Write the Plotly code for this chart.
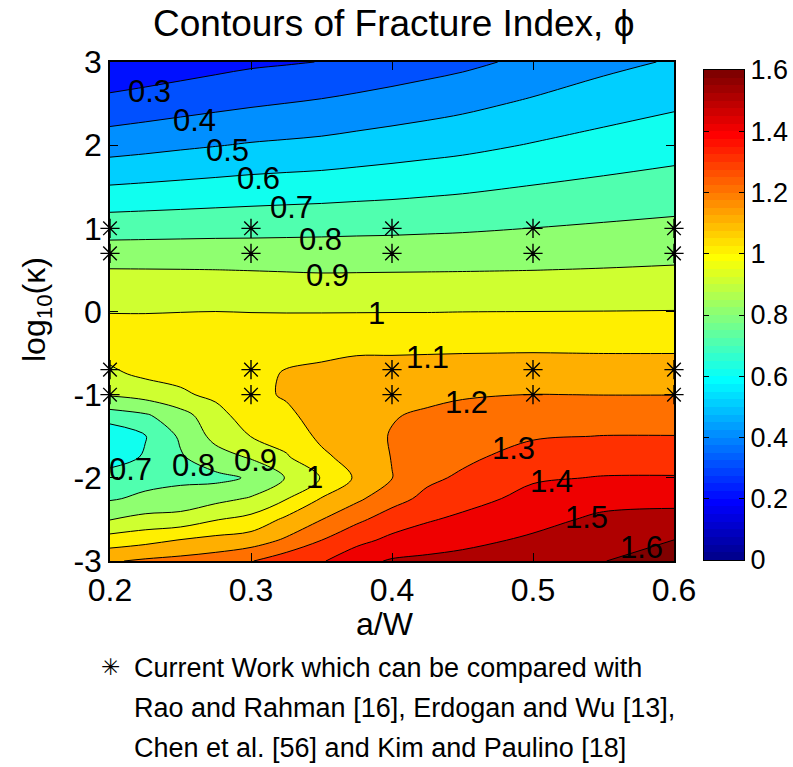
import plotly.graph_objects as go

# ---------------- data ----------------
aw = [0.2, 0.225, 0.25, 0.275, 0.3, 0.325, 0.35, 0.375, 0.4, 0.425, 0.45, 0.5, 0.55, 0.6]
logk = [3, 2.5, 2, 1.5, 1, 0.5, 0.25, -0.25, -0.5, -0.75, -1, -1.25, -1.5, -1.75,
        -2, -2.25, -2.5, -2.75, -3]

# fracture index phi: one row per logk value, one column per a/W value
phi_r3 = [0.215, 0.232, 0.25, 0.267, 0.283, 0.292, 0.302, 0.319, 0.34, 0.358, 0.376, 0.424, 0.473, 0.509]
phi_r2p5 = [0.33, 0.345, 0.36, 0.375, 0.389, 0.401, 0.413, 0.428, 0.442, 0.458, 0.475, 0.515, 0.553, 0.585]
phi_r2 = [0.457, 0.47, 0.484, 0.496, 0.508, 0.516, 0.524, 0.537, 0.55, 0.562, 0.574, 0.606, 0.636, 0.661]
phi_r1p5 = [0.606, 0.614, 0.622, 0.63, 0.638, 0.644, 0.649, 0.657, 0.664, 0.673, 0.682, 0.704, 0.723, 0.74]
phi_r1 = [0.759, 0.762, 0.765, 0.768, 0.770, 0.773, 0.776, 0.779, 0.781, 0.785, 0.789, 0.801, 0.813, 0.824]
phi_r0p5 = [0.904, 0.903, 0.902, 0.9005, 0.898, 0.895, 0.892, 0.893, 0.894, 0.895, 0.896, 0.899, 0.904, 0.91]
phi_r0p25 = [0.952, 0.951, 0.951, 0.95, 0.95, 0.948, 0.946, 0.946, 0.947, 0.947, 0.948, 0.95, 0.952, 0.955]
phi_rm0p25 = [1.04, 1.04, 1.045, 1.05, 1.045, 1.045, 1.047, 1.048, 1.048, 1.048, 1.05, 1.05, 1.05, 1.05]
phi_rm0p5 = [1.025, 1.035, 1.04, 1.05, 1.07, 1.085, 1.085, 1.095, 1.095, 1.097, 1.099, 1.101, 1.099, 1.099]
phi_rm0p75 = [0.981, 1.02, 1.025, 1.04, 1.08, 1.105, 1.12, 1.135, 1.14, 1.143, 1.145, 1.149, 1.15, 1.15]
phi_rm1 = [0.91, 0.937, 0.986, 1.02, 1.075, 1.11, 1.14, 1.16, 1.17, 1.18, 1.193, 1.201, 1.199, 1.199]
phi_rm1p25 = [0.755, 0.787, 0.86, 0.965, 1.05, 1.08, 1.14, 1.17, 1.195, 1.212, 1.223, 1.246, 1.249, 1.251]
phi_rm1p5 = [0.62, 0.695, 0.815, 0.93, 1.002, 1.04, 1.12, 1.165, 1.205, 1.235, 1.25, 1.291, 1.302, 1.302]
phi_rm1p75 = [0.65, 0.71, 0.79, 0.86, 0.91, 0.99, 1.08, 1.14, 1.203, 1.258, 1.28, 1.339, 1.353, 1.354]
phi_rm2 = [0.745, 0.765, 0.78, 0.775, 0.81, 0.905, 1.005, 1.115, 1.198, 1.28, 1.315, 1.388, 1.405, 1.406]
phi_rm2p25 = [0.79, 0.82, 0.835, 0.87, 0.91, 0.995, 1.105, 1.18, 1.265, 1.325, 1.362, 1.431, 1.468, 1.47]
phi_rm2p5 = [0.896, 0.93, 0.94, 0.995, 1.03, 1.12, 1.198, 1.28, 1.345, 1.39, 1.421, 1.471, 1.519, 1.534]
phi_rm2p75 = [1.045, 1.07, 1.105, 1.13, 1.15, 1.215, 1.30, 1.37, 1.425, 1.455, 1.475, 1.515, 1.56, 1.601]
phi_rm3 = [1.19, 1.215, 1.23, 1.25, 1.295, 1.36, 1.39, 1.47, 1.51, 1.52, 1.53, 1.55, 1.597, 1.665]

phi = [phi_r3, phi_r2p5, phi_r2, phi_r1p5, phi_r1, phi_r0p5, phi_r0p25, phi_rm0p25,
       phi_rm0p5, phi_rm0p75, phi_rm1, phi_rm1p25, phi_rm1p5, phi_rm1p75, phi_rm2,
       phi_rm2p25, phi_rm2p5, phi_rm2p75, phi_rm3]

# points of the current work
star_aw = [0.2, 0.3, 0.4, 0.5, 0.6]
star_logk = [1.0, 0.699, -0.699, -1.0]

# contour level labels
level_labels = ["0.3", "0.4", "0.5", "0.6", "0.7", "0.8", "0.9", "1", "1.1", "1.2",
                "1.3", "1.4", "1.5", "1.6", "0.7", "0.8", "0.9", "1"]

x_ticks = [0.2, 0.3, 0.4, 0.5, 0.6]
x_ticktext = ["0.2", "0.3", "0.4", "0.5", "0.6"]
y_ticks = [-3, -2, -1, 0, 1, 2, 3]
y_ticktext = ["-3", "-2", "-1", "0", "1", "2", "3"]
cbar_min, cbar_max = 0.0, 1.6
cbar_ticks = [0, 0.2, 0.4, 0.6, 0.8, 1.0, 1.2, 1.4, 1.6]
cbar_ticktext = ["0", "0.2", "0.4", "0.6", "0.8", "1", "1.2", "1.4", "1.6"]

title_text = "Contours of Fracture Index, \u03d5"
xlabel_text = "a/W"
ylabel_text = "log<sub>10</sub>(\u03ba)"
note_lines = ["Current Work which can be compared with",
              "Rao and Rahman [16], Erdogan and Wu [13],",
              "Chen et al. [56] and Kim and Paulino [18]"]

# ---------------- styling helpers ----------------
FONT = "Liberation Sans, Arial, Helvetica, sans-serif"
W, H = 793, 767
PL, PR, PT, PB = 110, 674, 62, 561   # main plot area in pixels
CB_L, CB_R, CB_T, CB_B = 704, 744, 70, 560   # colour bar box in pixels
ML, MR = PL, CB_R                     # paper area (inside margins)


def jet(m=64):
    n = m // 4
    u = [i / n for i in range(1, n + 1)] + [1.0] * (n - 1) + [i / n for i in range(n, 0, -1)]
    J = [[0.0, 0.0, 0.0] for _ in range(m)]
    for k in range(1, m + 1):
        if k >= 25:
            J[k - 1][0] = u[k - 25]
        if 9 <= k <= 55:
            J[k - 1][1] = u[k - 9]
        if k <= 39:
            J[k - 1][2] = u[k + 7]
    return J


def rgb(c):
    return "rgb(%d,%d,%d)" % (round(c[0] * 255), round(c[1] * 255), round(c[2] * 255))


J = jet(64)

# filled bands: band [L, L+0.1] takes the jet colour of L (MATLAB contourf style)
band_scale = []
for k in range(16):
    c = rgb(J[4 * k])
    band_scale.append([k / 16, c])
    band_scale.append([min((k + 1) / 16, 0.9999), c])
band_scale.append([1.0, rgb(J[63])])

# colour bar: 64-step jet
bar_scale = []
for i in range(64):
    c = rgb(J[i])
    bar_scale.append([i / 64, c])
    bar_scale.append([(i + 1) / 64, c])
step = (cbar_max - cbar_min) / 64
bar_centres = [cbar_min + (i + 0.5) * step for i in range(64)]


def px2paper_x(px):
    return (px - ML) / (MR - ML)


def px2paper_y(py):
    return (PB - py) / (PB - PT)


fig = go.Figure()

fig.add_trace(go.Contour(
    x=aw, y=logk, z=phi,
    autocontour=False,
    contours=dict(start=0, end=1.6, size=0.1, coloring="fill", showlines=True),
    line=dict(color="black", width=1),
    colorscale=band_scale, zmin=0, zmax=1.6,
    showscale=False, hoverinfo="skip",
))

sx, sy = [], []
for yy in star_logk:
    for xx in star_aw:
        sx.append(xx)
        sy.append(yy)
fig.add_trace(go.Scatter(
    x=sx, y=sy, mode="markers", cliponaxis=False, hoverinfo="skip",
    marker=dict(symbol="asterisk-open", size=16, color="black",
                line=dict(color="black", width=1.4)),
))

# colour bar drawn as a one-column heatmap on its own axes
fig.add_trace(go.Heatmap(
    x=[0], y=bar_centres, z=[[v] for v in bar_centres],
    colorscale=bar_scale, zmin=cbar_min, zmax=cbar_max, showscale=False,
    xaxis="x2", yaxis="y2", hoverinfo="skip",
))

axis_common = dict(ticks="inside", ticklen=8, tickwidth=1, tickcolor="black",
                   showline=True, linecolor="black", linewidth=1.5, mirror="ticks",
                   showgrid=False, zeroline=False, automargin=False,
                   tickfont=dict(size=32, family=FONT, color="black"))

fig.update_layout(
    template="none",
    width=W, height=H,
    margin=dict(l=ML, r=W - MR, t=PT, b=H - PB, pad=0, autoexpand=False),
    paper_bgcolor="white", plot_bgcolor="white",
    showlegend=False,
    font=dict(family=FONT, color="black"),
    xaxis=dict(domain=[0, px2paper_x(PR)], range=[0.2, 0.6], tickvals=x_ticks,
               ticktext=x_ticktext, **axis_common),
    yaxis=dict(range=[-3, 3], tickvals=y_ticks, ticktext=y_ticktext, **axis_common),
    xaxis2=dict(domain=[px2paper_x(CB_L), 1], anchor="y2", range=[-0.5, 0.5],
                showticklabels=False, ticks="", showline=True, mirror=True,
                linecolor="black", linewidth=1, showgrid=False, zeroline=False,
                automargin=False),
    yaxis2=dict(domain=[px2paper_y(CB_B), px2paper_y(CB_T)], anchor="x2", side="right",
                range=[cbar_min, cbar_max], tickvals=cbar_ticks, ticktext=cbar_ticktext,
                ticks="inside", ticklen=5, tickwidth=1, tickcolor="black",
                showline=True, mirror="ticks", linecolor="black", linewidth=1,
                showgrid=False, zeroline=False, automargin=False,
                tickfont=dict(size=27, family=FONT, color="black")),
)

ann = []
# title and axis labels
ann.append(dict(text=title_text, x=px2paper_x(393), y=px2paper_y(23), xref="paper", yref="paper",
                showarrow=False, xanchor="center", yanchor="middle",
                font=dict(size=37, family=FONT, color="black")))
ann.append(dict(text=xlabel_text, x=px2paper_x(385), y=px2paper_y(624), xref="paper", yref="paper",
                showarrow=False, xanchor="center", yanchor="middle",
                font=dict(size=32, family=FONT, color="black")))
ann.append(dict(text=ylabel_text, x=px2paper_x(36), y=px2paper_y(310), xref="paper", yref="paper",
                showarrow=False, xanchor="center", yanchor="middle", textangle=-90,
                font=dict(size=32, family=FONT, color="black")))
# footnote
ann.append(dict(text="\u2733", x=px2paper_x(110), y=px2paper_y(667), xref="paper", yref="paper",
                showarrow=False, xanchor="center", yanchor="middle",
                font=dict(size=23, family="DejaVu Sans", color="black")))
for i, line in enumerate(note_lines):
    ann.append(dict(text=line, x=px2paper_x(132), y=px2paper_y(668 + 40 * i), xref="paper", yref="paper",
                    showarrow=False, xanchor="left", yanchor="middle",
                    font=dict(size=27, family=FONT, color="black")))

# contour labels (placed where the reference puts them)
label_pos = [(0.228, 2.68), (0.260, 2.33), (0.283, 1.96), (0.305, 1.63), (0.329, 1.276),
             (0.349, 0.90), (0.354, 0.465), (0.389, 0.009), (0.425, -0.52), (0.453, -1.066),
             (0.486, -1.613), (0.513, -2.02), (0.538, -2.45), (0.577, -2.81),
             (0.2142, -1.87), (0.259, -1.817), (0.303, -1.757), (0.345, -1.96)]
for txt, (lx, ly) in zip(level_labels, label_pos):
    ann.append(dict(text=txt, x=lx, y=ly - 0.03, xref="x", yref="y", showarrow=False,
                    xanchor="center", yanchor="middle",
                    font=dict(size=31, family=FONT, color="black")))

fig.update_layout(annotations=ann)

fig.write_html("out.html")
